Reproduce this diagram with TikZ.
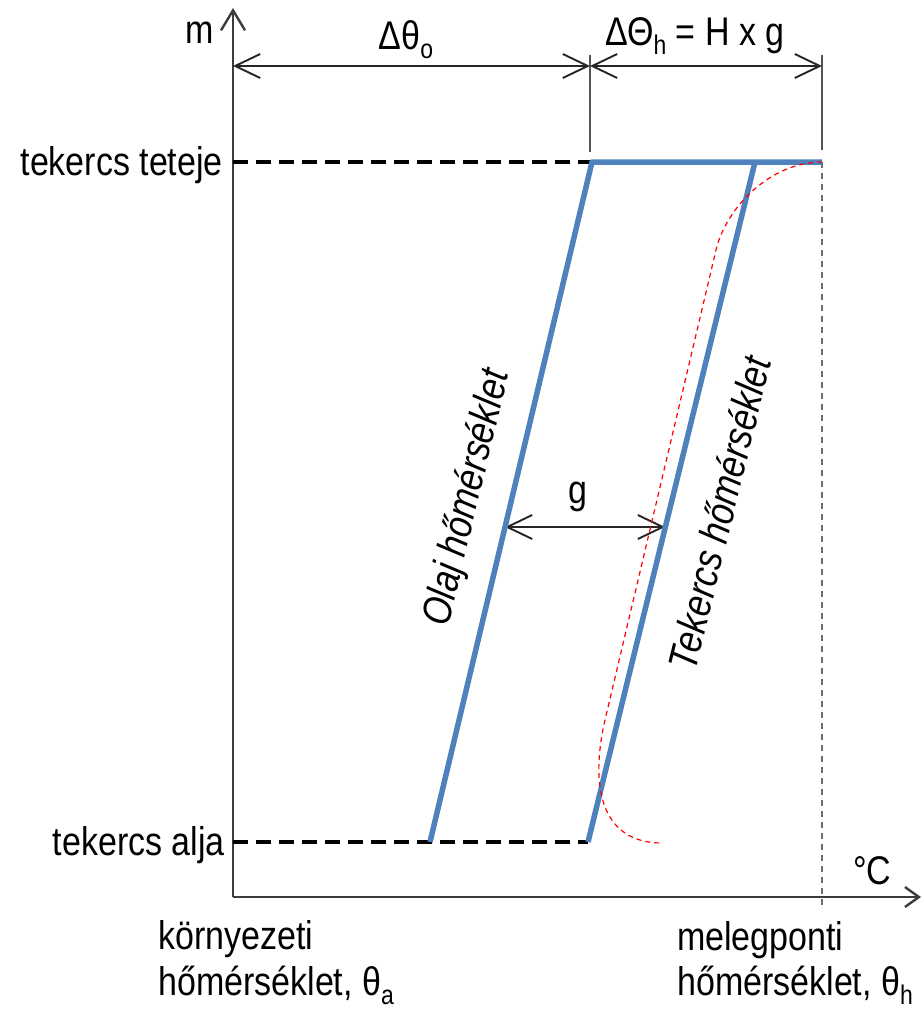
\documentclass[tikz,border=0pt]{standalone}
\usepackage{fontspec}
\setmainfont{Liberation Sans}
\newfontfamily\nar[FakeStretch=0.85]{Liberation Sans}
\usetikzlibrary{arrows.meta}
\definecolor{lineblue}{RGB}{79,129,189}
\definecolor{axisgray}{RGB}{60,60,60}
\definecolor{tickgray}{RGB}{85,85,85}
\definecolor{dotgray}{RGB}{110,110,110}
\newcommand\lowsub[1]{\raisebox{-0.24em}{\fontsize{27}{27}\selectfont #1}}
\tikzset{
  vb/.tip={Straight Barb[length=25pt,width=24pt]},
  lbl/.style={inner sep=0pt, font=\nar\fontsize{40}{48}\selectfont},
  rlbl/.style={inner sep=0pt, font=\nar\itshape\fontsize{41}{48}\selectfont},
  axisline/.style={draw=axisgray, line width=2.4},
  levelline/.style={draw=black, line width=3.4, dash pattern=on 15pt off 8pt},
  templine/.style={draw=lineblue, line width=5.5, line join=round},
  tickline/.style={draw=tickgray, line width=1.7},
  dimarrow/.style={draw=black!85, line width=1.9, vb-vb},
  hotline/.style={draw=dotgray, line width=2.6, dash pattern=on 6pt off 5pt},
  redcurve/.style={draw=red, line width=1.2, dash pattern=on 5pt off 4pt},
}
\begin{document}
\begin{tikzpicture}[x=1pt,y=-1pt]
\useasboundingbox (0,0) rectangle (923,1010);
% key points
\coordinate (O) at (233,897);
\coordinate (ytop) at (233,8);
\coordinate (xend) at (921,897);
\coordinate (tt) at (233,162);
\coordinate (ta) at (233,842);
\coordinate (oilTop) at (592,162);
\coordinate (oilBot) at (430,842);
\coordinate (windTop) at (755,162);
\coordinate (windBot) at (588,842);
\coordinate (hot) at (822,162);
\coordinate (hotAx) at (822,906);
\coordinate (dA) at (233,66);
\coordinate (dB) at (590,66);
\coordinate (dC) at (822,66);
\coordinate (t1a) at (590,55);
\coordinate (t1b) at (590,152);
\coordinate (t2a) at (822,55);
\coordinate (t2b) at (822,150);
\coordinate (gA) at (505,527);
\coordinate (gB) at (665,527);
\coordinate (r1) at (716,250);
\coordinate (r2) at (605,720);
\coordinate (rEnd) at (662,843);
% axes
\draw[axisline, -{Straight Barb[length=20pt,width=24pt]}] (O) -- (ytop);
\draw[axisline, -{Straight Barb[length=14pt,width=20pt]}] (O) -- (xend);
% level lines
\draw[levelline] (tt) -- (oilTop);
\draw[levelline] (ta) -- (windBot);
% hot spot vertical
\draw[hotline] (hot) -- (hotAx);
% ticks
\draw[tickline] (t1a) -- (t1b);
\draw[tickline] (t2a) -- (t2b);
% dimension arrows
\draw[dimarrow] (dA) -- (dB);
\draw[dimarrow] (dB) -- (dC);
\draw[dimarrow] (gA) -- (gB);
% temperature lines
\draw[templine] (oilBot) -- (oilTop) -- (hot);
\draw[templine] (windBot) -- (windTop);
% red curve
\draw[redcurve] (hot) .. controls (770,162) and (726,208) .. (r1) -- (r2) .. controls (590,785) and (600,843) .. (rEnd);
% labels
\node[lbl, anchor=base east] (mlab) at (214,43) {m};
\node[lbl, anchor=base west] (clab) at (853,884) {°C};
\node[lbl, anchor=base east] (ttlab) at (223,175) {tekercs teteje};
\node[lbl, anchor=base east] (talab) at (225,855) {tekercs alja};
\node[lbl, anchor=base] (dolab) at (406,49) {Δθ\lowsub{o}};
\node[lbl, anchor=base west] (dhlab) at (605,45) {ΔΘ\lowsub{h} = H x g};
\node[lbl, anchor=base] (glab) at (578,503) {g};
\node[lbl, anchor=base west] (kl1) at (158,949) {környezeti};
\node[lbl, anchor=base west] (kl2) at (158,995) {hőmérséklet, θ\lowsub{a}};
\node[lbl, anchor=base west] (ml1) at (677,950) {melegponti};
\node[lbl, anchor=base west] (ml2) at (677,995) {hőmérséklet, θ\lowsub{h}};
\node[rlbl, rotate=76.6] (oillab) at (468,498) {Olaj hőmérséklet};
\node[rlbl, rotate=76.2] (windlab) at (719,513) {Tekercs hőmérséklet};
\end{tikzpicture}
\end{document}
